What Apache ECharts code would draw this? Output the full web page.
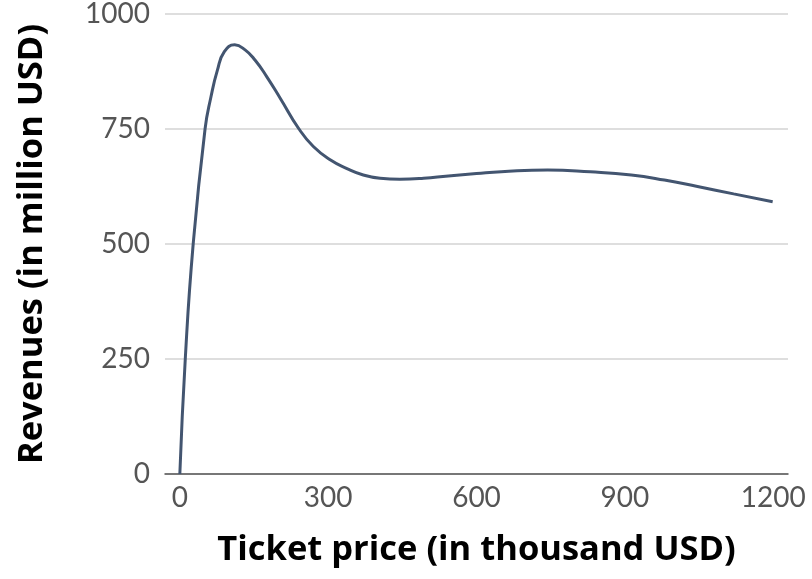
<!DOCTYPE html>
<html>
<head>
<meta charset="utf-8">
<script src="https://cdn.jsdelivr.net/npm/echarts@6/dist/echarts.min.js"></script>
<style>
html,body{margin:0;padding:0;background:#fff;}
#chart{width:812px;height:579px;}
</style>
</head>
<body>
<div id="chart"></div>
<script>
// Ticket price (thousand USD)
const ticketPrice = [0, 11, 27, 51, 63, 76, 90, 111, 132, 152, 175, 203, 241, 270, 304, 338, 371, 405, 445, 493, 543, 600, 650, 744, 830, 913, 980, 1047, 1120, 1199];
// Revenues (million USD)
const revenues = [0, 250, 500, 750, 820, 878, 918, 933, 922, 900, 865, 817, 750, 712, 683, 664, 650, 643, 641, 643, 648, 653, 657, 661, 657, 650, 639, 625, 609, 592];
const xTickValues = [0, 300, 600, 900, 1200];
const yTickValues = [0, 250, 500, 750, 1000];

const points = ticketPrice.map((p, i) => [p, revenues[i]]);

const chart = echarts.init(document.getElementById('chart'));
chart.setOption({
  animation: false,
  grid: {left: 165, right: 24, top: 13.5, bottom: 105, containLabel: false},
  xAxis: {
    type: 'value',
    min: -30, max: 1230,
    name: 'Ticket price (in thousand USD)',
    nameLocation: 'middle',
    nameGap: 59,
    nameTextStyle: {fontFamily: 'Open Sans', fontWeight: 'bold', fontSize: 34.5, color: '#000'},
    axisLine: {show: true, lineStyle: {color: '#555', width: 1.5}},
    axisTick: {show: false},
    splitLine: {show: false},
    axisLabel: {
      customValues: xTickValues,
      formatter: v => String(v),
      fontFamily: 'Lato', fontSize: 28, color: '#555', margin: 10
    }
  },
  yAxis: {
    type: 'value',
    min: 0, max: 1000, interval: 250,
    name: 'Revenues (in million USD)',
    nameLocation: 'middle',
    nameGap: 115,
    nameTextStyle: {fontFamily: 'Open Sans', fontWeight: 'bold', fontSize: 34.5, color: '#000'},
    axisLine: {show: false},
    axisTick: {show: false},
    splitLine: {show: true, lineStyle: {color: '#d3d3d3', width: 1.5}},
    axisLabel: {
      customValues: yTickValues,
      formatter: v => String(v),
      fontFamily: 'Lato', fontSize: 28, color: '#555', margin: 15
    }
  },
  series: [{
    type: 'line',
    data: points,
    smooth: 0.5,
    showSymbol: false,
    lineStyle: {color: '#435570', width: 3}
  }]
});
</script>
</body>
</html>
